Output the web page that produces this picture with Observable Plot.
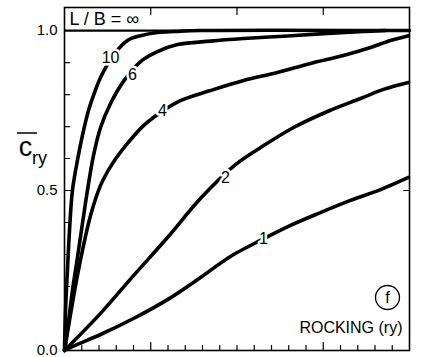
<!DOCTYPE html>
<html><head><meta charset="utf-8">
<script src="https://cdn.jsdelivr.net/npm/d3@7"></script>
<script src="https://cdn.jsdelivr.net/npm/@observablehq/plot@0.6"></script>
<style>body{margin:0;background:#fff}svg{display:block}</style>
</head><body><div id="chart"></div>
<script>
// Curves of normalized rocking coefficient vs frequency parameter, one per L/B ratio
const x10 = [0, 0.06, 0.17, 0.29, 0.46, 0.75, 1.04, 1.39, 1.74, 2.09, 2.78, 3.65, 4.41, 5.39, 6.43, 7.88, 20];
const y10 = [0, 0.125, 0.25, 0.375, 0.5, 0.594, 0.672, 0.75, 0.806, 0.853, 0.919, 0.969, 0.984, 0.994, 0.997, 1.0, 1.0];
const x6 = [0, 0.17, 0.46, 0.75, 1.04, 1.33, 1.68, 2.09, 2.67, 3.42, 4.41, 5.39, 6.55, 8.46, 10.38, 12.93, 15.25, 17.33, 18.61];
const y6 = [0, 0.0625, 0.1875, 0.29, 0.397, 0.5, 0.609, 0.697, 0.772, 0.841, 0.903, 0.934, 0.956, 0.967, 0.975, 0.983, 0.991, 0.997, 1.0];
const x4 = [0, 0.29, 0.64, 1.04, 1.51, 2.09, 2.78, 3.65, 4.58, 5.57, 6.72, 8.46, 10.38, 12.35, 14.26, 16.17, 17.74, 18.9, 19.94];
const y4 = [0, 0.094, 0.203, 0.3125, 0.422, 0.516, 0.584, 0.647, 0.703, 0.744, 0.781, 0.8125, 0.844, 0.869, 0.897, 0.922, 0.947, 0.969, 0.984];
const x2 = [0, 2.09, 4.0, 5.97, 7.88, 9.91, 11.36, 13.28, 15.25, 17.16, 18.49, 19.94];
const y2 = [0, 0.116, 0.234, 0.353, 0.475, 0.581, 0.634, 0.697, 0.747, 0.7875, 0.816, 0.8375];
const x1 = [0, 0.75, 2.09, 4.0, 5.97, 7.88, 9.62, 11.36, 13.1, 14.84, 16.58, 18.32, 19.94];
const y1 = [0, 0.019, 0.05, 0.1, 0.159, 0.228, 0.294, 0.344, 0.391, 0.431, 0.469, 0.503, 0.541];
const infValue = 1.0;

// Curve labels
const curveLabels = ["10", "6", "4", "2", "1"];
const labelX = [2.67, 3.94, 5.68, 9.33, 11.54];
const labelY = [0.916, 0.8625, 0.75, 0.54, 0.35];

// Axis ticks
const yTickLabels = [0, 0.5, 1.0];
const yMinorTicks = [0.1, 0.2, 0.3, 0.4, 0.6, 0.7, 0.8, 0.9];
const yMajorTicks = [0.5];
const xMinorTicks = [1,2,3,4,6,7,8,9,10,11,12,13,14,16,17,18,19];
const xMajorBottom = [5, 15];
const xMajorTop = [5, 10, 15];

const series = [["10", x10, y10], ["6", x6, y6], ["4", x4, y4], ["2", x2, y2], ["1", x1, y1]];
const rows = series.flatMap(([k, xs, ys]) => xs.map((x, i) => ({k, x, y: ys[i]})));
const labels = curveLabels.map((t, i) => ({t, x: labelX[i], y: labelY[i]}));

const tickShape = {draw(ctx, l) { ctx.moveTo(0, 0); ctx.lineTo(0, -l); }};
const font = "'Liberation Sans', Arial, Helvetica, sans-serif";

const chart = Plot.plot({
  width: 421, height: 357,
  marginLeft: 64, marginRight: 12, marginTop: 7, marginBottom: 7,
  style: {fontFamily: font, background: "white", color: "black"},
  x: {domain: [0, 20], axis: null},
  y: {domain: [0, 1.072], axis: null},
  marks: [
    Plot.ruleY([infValue], {stroke: "black", strokeWidth: 2.2}),
    Plot.line(rows, {x: "x", y: "y", z: "k", stroke: "black", strokeWidth: 3.6, curve: "catmull-rom"}),
    Plot.text(labels, {x: "x", y: "y", text: "t", fontSize: 16, fill: "black", stroke: "white", strokeWidth: 5, paintOrder: "stroke"}),
    Plot.vector(yMinorTicks, {y: d => d, frameAnchor: "left", rotate: 90, length: 5, anchor: "start", shape: tickShape, stroke: "black", strokeWidth: 1.2}),
    Plot.vector(yMajorTicks, {y: d => d, frameAnchor: "left", rotate: 90, length: 8, anchor: "start", shape: tickShape, stroke: "black", strokeWidth: 1.2}),
    Plot.vector(yMajorTicks, {y: d => d, frameAnchor: "right", rotate: 270, length: 6, anchor: "start", shape: tickShape, stroke: "black", strokeWidth: 1.2}),
    Plot.vector(xMinorTicks, {x: d => d, frameAnchor: "bottom", rotate: 0, length: 5, anchor: "start", shape: tickShape, stroke: "black", strokeWidth: 1.2}),
    Plot.vector(xMajorBottom, {x: d => d, frameAnchor: "bottom", rotate: 0, length: 8, anchor: "start", shape: tickShape, stroke: "black", strokeWidth: 1.2}),
    Plot.vector(xMajorTop, {x: d => d, frameAnchor: "top", rotate: 180, length: 7, anchor: "start", shape: tickShape, stroke: "black", strokeWidth: 1.2}),
    Plot.axisY(yTickLabels, {tickSize: 0, tickPadding: 7, tickFormat: d3.format(".1f"), fontSize: 15, label: null}),
    Plot.text(["L / B = \u221e"], {x: 0, y: infValue, dx: 5, dy: -11, textAnchor: "start", lineAnchor: "middle", fontSize: 18, fill: "black"}),
    Plot.dot([0], {frameAnchor: "bottom-right", dx: -22, dy: -53, r: 12, stroke: "black", strokeWidth: 1.3, fill: "white"}),
    Plot.text(["f"], {frameAnchor: "bottom-right", dx: -22, dy: -53, textAnchor: "middle", lineAnchor: "middle", fontSize: 16, fill: "black"}),
    Plot.text(["ROCKING (ry)"], {frameAnchor: "bottom-right", dx: -7, dy: -23, textAnchor: "end", lineAnchor: "middle", fontSize: 16, fill: "black"}),
    Plot.text(["c"], {frameAnchor: "top-left", dx: -39, dy: 140, textAnchor: "middle", lineAnchor: "middle", fontSize: 27, fill: "black"}),
    Plot.text(["ry"], {frameAnchor: "top-left", dx: -25, dy: 151, textAnchor: "middle", lineAnchor: "middle", fontSize: 18, fill: "black"}),
    Plot.frame({stroke: "black", strokeWidth: 1.6})
  ]
});
const svg = d3.select(chart);
svg.append("line").attr("x1", 17).attr("x2", 37).attr("y1", 133).attr("y2", 133)
  .attr("stroke", "black").attr("stroke-width", 1.5);
document.getElementById("chart").append(chart);
</script>
</body></html>
